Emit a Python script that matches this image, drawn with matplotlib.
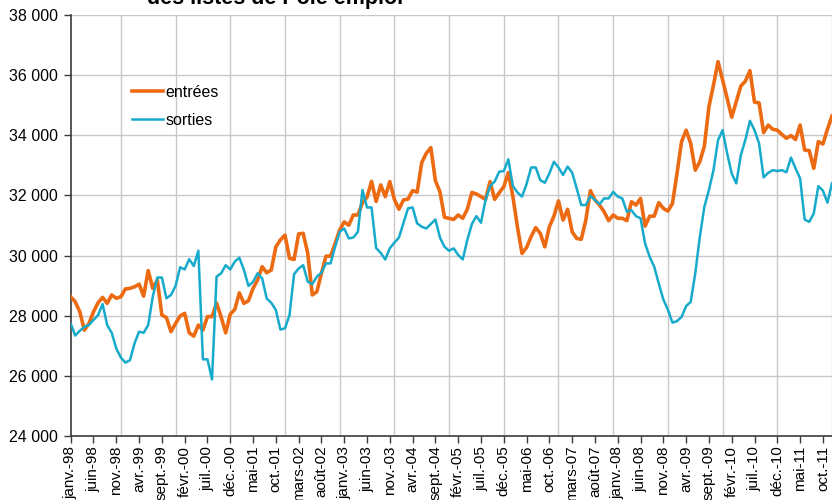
import matplotlib
matplotlib.use("Agg")
import matplotlib.pyplot as plt
import numpy as np

plt.rcParams['font.family'] = ['Liberation Sans', 'DejaVu Sans']

month_abbr = ["janv.", "févr.", "mars", "avr.", "mai", "juin",
              "juil.", "août", "sept.", "oct.", "nov.", "déc."]
years = list(range(1998, 2012))
months = [f"{m}-{str(y)[2:]}" for y in years for m in month_abbr]

entrees = [
    28630, 28460, 28130, 27520, 27740, 28130, 28430, 28610, 28410, 28690, 28580, 28630,
    28890, 28910, 28960, 29050, 28650, 29500, 28910, 29190, 28020, 27940, 27470, 27740,
    27990, 28080, 27430, 27320, 27690, 27520, 27970, 27970, 28420, 27960, 27430, 28050,
    28210, 28760, 28410, 28500, 28910, 29190, 29630, 29430, 29520, 30290, 30520, 30680,
    29910, 29870, 30720, 30740, 30070, 28690, 28800, 29410, 29980, 29980, 30400, 30850,
    31120, 31010, 31350, 31350, 31760, 31940, 32470, 31800, 32350, 31960, 32460, 31870,
    31540, 31850, 31880, 32160, 32110, 33090, 33400, 33590, 32490, 32120, 31270, 31240,
    31200, 31350, 31240, 31540, 32100, 32050, 31960, 31870, 32460, 31870, 32090, 32290,
    32760, 31960, 30950, 30070, 30270, 30630, 30930, 30740, 30290, 30960, 31310, 31820,
    31180, 31540, 30790, 30570, 30540, 31180, 32160, 31850, 31680, 31460, 31160, 31350,
    31240, 31240, 31160, 31790, 31680, 31900, 30980, 31310, 31310, 31760, 31570, 31480,
    31730, 32730, 33790, 34170, 33730, 32840, 33120, 33640, 34950, 35670, 36450, 35840,
    35230, 34600, 35120, 35640, 35800, 36150, 35100, 35080, 34090, 34340, 34200, 34170,
    34030, 33900, 33990, 33860, 34340, 33510, 33490, 32900, 33790, 33710, 34200, 34640,
]

sorties = [
    27740, 27340, 27500, 27630, 27690, 27860, 28020, 28390, 27690, 27430, 26910, 26610,
    26440, 26520, 27080, 27470, 27430, 27690, 28630, 29270, 29270, 28580, 28690, 28990,
    29610, 29540, 29880, 29650, 30160, 26550, 26550, 25880, 29300, 29410, 29680, 29540,
    29800, 29930, 29520, 28990, 29130, 29410, 29240, 28570, 28430, 28190, 27540, 27580,
    28020, 29380, 29570, 29680, 29130, 29050, 29300, 29430, 29740, 29740, 30290, 30790,
    30900, 30570, 30600, 30790, 32180, 31600, 31600, 30250, 30090, 29870, 30240, 30430,
    30600, 31090, 31570, 31600, 31070, 30960, 30900, 31050, 31200, 30600, 30290, 30160,
    30240, 30020, 29870, 30520, 31050, 31310, 31090, 31850, 32310, 32460, 32790, 32810,
    33200, 32310, 32100, 31960, 32380, 32930, 32930, 32510, 32420, 32730, 33120, 32930,
    32680, 32960, 32760, 32230, 31680, 31680, 31980, 31850, 31710, 31900, 31900, 32120,
    31960, 31900, 31460, 31510, 31310, 31240, 30400, 29960, 29630, 29070, 28540, 28200,
    27770, 27820, 27960, 28320, 28460, 29400, 30620, 31620, 32180, 32840, 33840, 34170,
    33400, 32730, 32400, 33340, 33850, 34480, 34170, 33730, 32600, 32750, 32840, 32810,
    32840, 32770, 33260, 32900, 32570, 31200, 31120, 31400, 32310, 32160, 31760, 32400,
]

series_labels = ["entrées", "sorties"]
title_text = "des listes de Pôle emploi"

ORANGE = "#EC6A12"
BLUE = "#16AACB"
GRID = "#C8C8C8"
AXIS = "#3A3A3A"

fig = plt.figure(figsize=(8.32, 5.0), dpi=100)
ax = fig.add_axes([70.7 / 832, 1 - 436 / 500, 1 - 70.7 / 832, (436 - 15) / 500])

x = np.arange(len(months))
ax.plot(x, entrees, color=ORANGE, lw=2.6, label=series_labels[0], zorder=3,
        solid_joinstyle='round')
ax.plot(x, sorties, color=BLUE, lw=1.8, label=series_labels[1], zorder=4,
        solid_joinstyle='round')

ax.set_xlim(0, len(months) - 1)
ax.set_ylim(24000, 38000)

# y axis
yt = np.arange(24000, 38001, 2000)
ax.set_yticks(yt)
ax.set_yticklabels([f"{v:,}".replace(",", " ") for v in yt], fontsize=11.5)
for v in yt[1:]:
    ax.axhline(v, color=GRID, lw=1.0, zorder=1)

# vertical gridlines every 12 months (at December)
for g in range(11, len(months), 12):
    ax.axvline(g, color=GRID, lw=1.0, zorder=1)

# x ticks every 5 months
xt = list(range(0, len(months), 5))
ax.set_xticks(xt)
ax.set_xticklabels([months[i] for i in xt], rotation=90, fontsize=11,
                   va='top', ha='center')

ax.tick_params(axis='both', direction='out', length=5, width=1, color=AXIS,
               colors='black')
ax.tick_params(axis='x', pad=2)
ax.tick_params(axis='y', pad=4)

for s in ['top', 'right']:
    ax.spines[s].set_visible(False)
for s in ['left', 'bottom']:
    ax.spines[s].set_color(AXIS)
    ax.spines[s].set_linewidth(1.2)

leg = ax.legend(loc='upper left', bbox_to_anchor=(132 / 832, 1 - 85 / 500),
                bbox_transform=fig.transFigure, frameon=False, fontsize=11.5,
                handlelength=1.95, handletextpad=0.15, labelspacing=0.8,
                borderpad=0, borderaxespad=0)

fig.text(275 / 832, 1 - 4 / 500, title_text, fontsize=15.5, fontweight='bold',
         ha='center', va='baseline')

fig.savefig("out.png", dpi=100)
